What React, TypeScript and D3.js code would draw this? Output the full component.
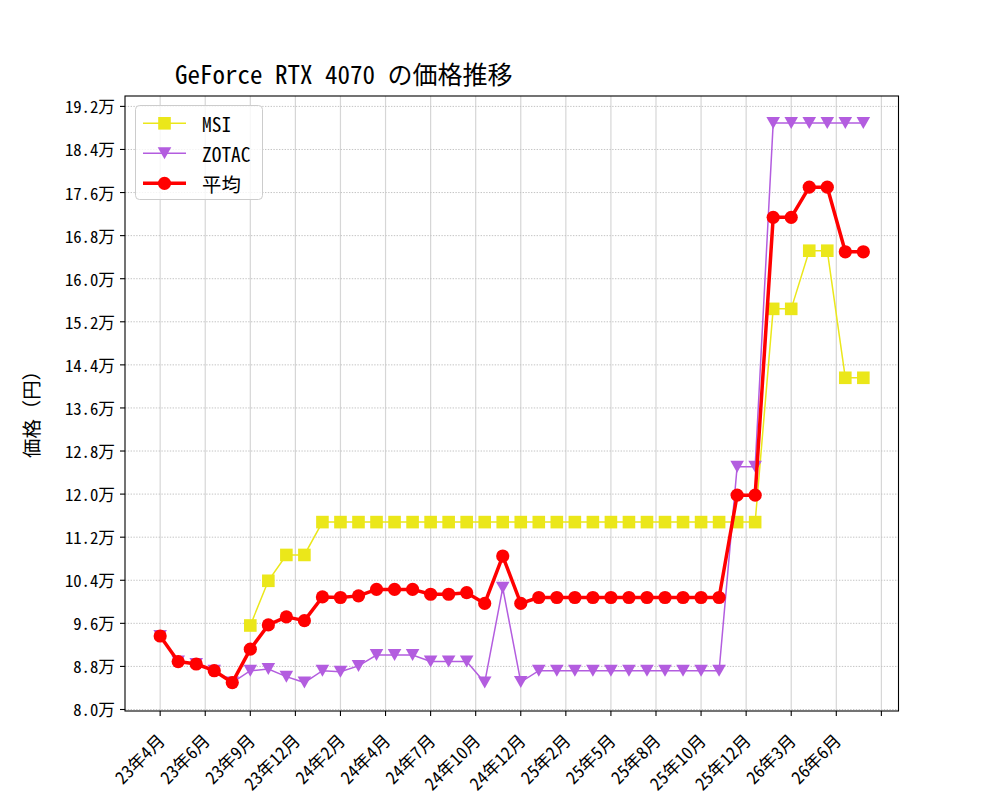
import React from "react";
import * as d3 from "d3";

// values in yen, one per month-ish sample (index 0..39)
const msi = [
  null, null, null, null, null, 95600, 103900, 108700, 108700,
  114800, 114800, 114800, 114800, 114800, 114800, 114800, 114800, 114800, 114800,
  114800, 114800, 114800, 114800, 114800, 114800, 114800, 114800, 114800, 114800,
  114800, 114800, 114800, 114800, 114800,
  154400, 154400, 165200, 165200, 141600, 141600,
];
const zotac = [
  93650, 88900, 88450, 87200, 85000, 87200, 87500, 86100, 85000, 87200,
  87000, 88100, 90100, 90100, 90100, 88900, 88900, 88900, 85000, 102600,
  85100, 87200, 87200, 87200, 87200, 87200, 87200, 87200, 87200, 87200,
  87200, 87200, 125100, 125100, 188900, 188900, 188900, 188900, 188900, 188900,
];
const avg = [
  93650, 88900, 88450, 87200, 85000, 91200, 95700, 97200, 96500, 100900,
  100800, 101100, 102300, 102300, 102300, 101400, 101400, 101700, 99700, 108500,
  99700, 100800, 100800, 100800, 100800, 100800, 100800, 100800, 100800, 100800,
  100800, 100800, 119800, 119800, 171400, 171400, 177000, 177000, 165000, 165000,
];
const xTickLabels = [
  "23年4月", "23年6月", "23年9月", "23年12月", "24年2月", "24年4月", "24年7月", "24年10月",
  "24年12月", "25年2月", "25年5月", "25年8月", "25年10月", "25年12月", "26年3月", "26年6月",
];
const yTicks = [80000, 88000, 96000, 104000, 112000, 120000, 128000, 136000, 144000, 152000, 160000, 168000, 176000, 184000, 192000];

const FONT = '"Noto Sans Mono CJK JP", "DejaVu Sans Mono", "Noto Sans CJK JP", monospace';
const C_MSI = "#ebe71a";
const C_ZOTAC = "#b35ddf";
const C_AVG = "#ff0000";

export default function App() {
  const W = 1000, H = 800;
  const L = 125, R = 898.5, T = 96, B = 711;
  const x = d3.scaleLinear().domain([-1.95, 40.95]).range([L, R]);
  const y = d3.scaleLinear().domain([79720, 193930]).range([B, T]);
  const xTicks = d3.range(0, 40.01, 2.5);

  const line = d3.line<number | null>()
    .defined(d => d != null)
    .x((d, i) => x(i))
    .y(d => y(d as number));

  const square = (cx: number, cy: number, k: string) =>
    <rect key={k} x={cx - 6.3} y={cy - 6.3} width={12.6} height={12.6} fill={C_MSI} />;
  const tri = (cx: number, cy: number, k: string) =>
    <path key={k} d={`M${cx - 6.8},${cy - 6}L${cx + 6.8},${cy - 6}L${cx},${cy + 6}Z`} fill={C_ZOTAC} />;
  const dot = (cx: number, cy: number, k: string) =>
    <circle key={k} cx={cx} cy={cy} r={6.6} fill={C_AVG} />;

  const legendItems = [
    { name: "MSI", color: C_MSI, w: 1.5, mk: square },
    { name: "ZOTAC", color: C_ZOTAC, w: 1.5, mk: tri },
    { name: "平均", color: C_AVG, w: 3.5, mk: dot },
  ];

  return (
    <svg width={W} height={H} style={{ position: "absolute", left: 0, top: 0 }} fontFamily={FONT}>
      <rect width={W} height={H} fill="#fff" />
      {/* grid */}
      {xTicks.map(t => (
        <line key={"gx" + t} x1={x(t)} x2={x(t)} y1={T} y2={B} stroke="#d6d6d6" strokeWidth={1.2} />
      ))}
      {yTicks.map(t => (
        <line key={"gy" + t} x1={L} x2={R} y1={y(t)} y2={y(t)} stroke="#c4c4c4" strokeWidth={1} strokeDasharray="1.4,1.4" />
      ))}

      {/* series */}
      <path d={line(msi) || ""} fill="none" stroke={C_MSI} strokeWidth={1.5} />
      {msi.map((v, i) => v == null ? null : square(x(i), y(v), "m" + i))}
      <path d={line(zotac) || ""} fill="none" stroke={C_ZOTAC} strokeWidth={1.5} />
      {zotac.map((v, i) => tri(x(i), y(v), "z" + i))}
      <path d={line(avg) || ""} fill="none" stroke={C_AVG} strokeWidth={3.5} strokeLinejoin="round" />
      {avg.map((v, i) => dot(x(i), y(v), "a" + i))}

      {/* frame */}
      <rect x={L} y={T} width={R - L} height={B - T} fill="none" stroke="#000" strokeWidth={1.1} />

      {/* y axis */}
      {yTicks.map(t => (
        <g key={"yt" + t}>
          <line x1={L - 5} x2={L} y1={y(t)} y2={y(t)} stroke="#000" strokeWidth={1.1} />
          <text x={L - 10} y={y(t)} textAnchor="end" dominantBaseline="central" fontSize={16.7}>
            {(t / 10000).toFixed(1)}万
          </text>
        </g>
      ))}
      <text transform={`translate(30,${(T + B) / 2 + 6}) rotate(-90)`} textAnchor="middle" dominantBaseline="central" fontSize={19.4}>
        価格（円）
      </text>

      {/* x axis */}
      {xTicks.map((t, i) => (
        <g key={"xt" + t}>
          <line x1={x(t)} x2={x(t)} y1={B} y2={B + 5} stroke="#000" strokeWidth={1.1} />
          {xTickLabels[i] && (
            <text transform={`translate(${x(t) + 6},${B + 31}) rotate(-45)`} textAnchor="end" fontSize={17.5}>
              {xTickLabels[i]}
            </text>
          )}
        </g>
      ))}

      {/* title */}
      <text x={175} y={84} fontSize={25}>GeForce RTX 4070 の価格推移</text>

      {/* legend */}
      <rect x={135.5} y={105.5} width={127} height={94} rx={4} fill="#fff" fillOpacity={0.8} stroke="#cccccc" />
      {legendItems.map((it, i) => {
        const cy = 123.3 + i * 30;
        return (
          <g key={it.name}>
            <line x1={143} x2={186} y1={cy} y2={cy} stroke={it.color} strokeWidth={it.w} />
            {it.mk(164.5, cy, "lg" + i)}
            <text x={202} y={cy} dominantBaseline="central" fontSize={19.4}>{it.name}</text>
          </g>
        );
      })}
    </svg>
  );
}
